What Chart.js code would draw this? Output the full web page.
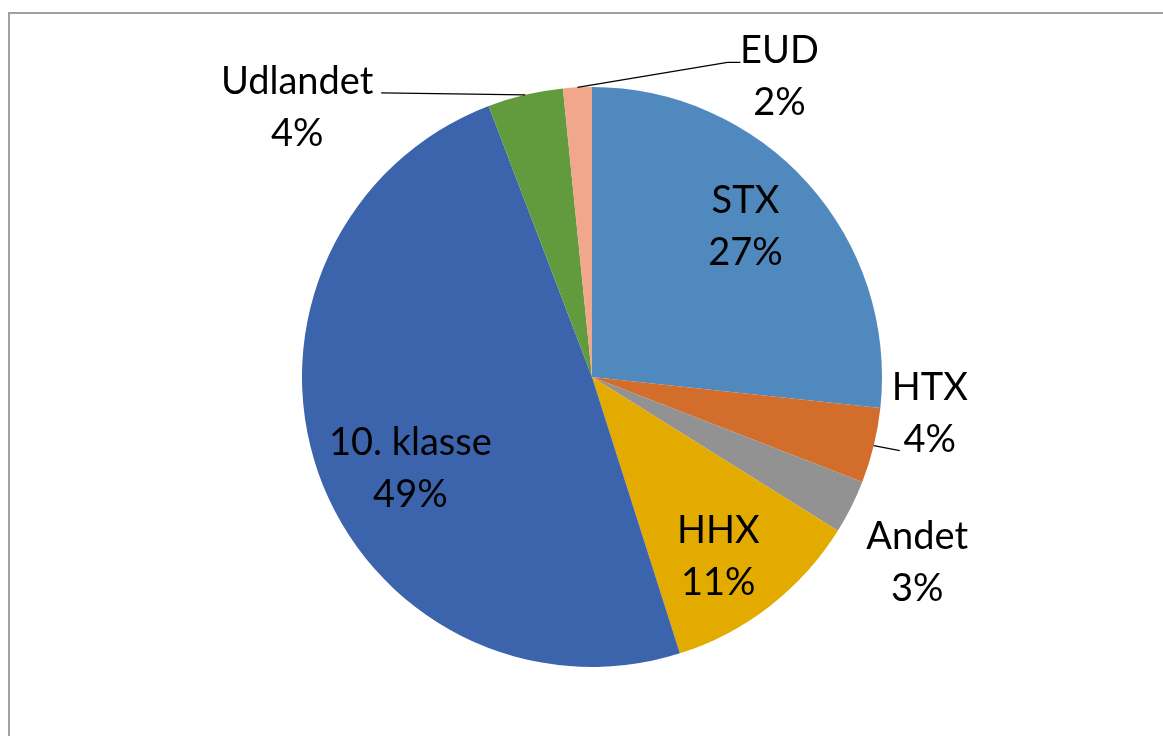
<!DOCTYPE html>
<html>
<head>
<meta charset="utf-8">
<script src="https://cdn.jsdelivr.net/npm/chart.js@4"></script>
<style>
  html, body { margin: 0; padding: 0; background: #fff; }
  #wrap { position: relative; width: 1163px; height: 736px; overflow: hidden; }
  #frame {
    position: absolute; left: 8px; top: 12px; width: 1200px; height: 800px;
    border-left: 2px solid #a0a0a0; border-top: 2px solid #a0a0a0;
  }
  canvas { position: absolute; left: 0; top: 0; }
</style>
</head>
<body>
<div id="wrap">
  <div id="frame"></div>
  <canvas id="pie" width="1163" height="736"></canvas>
</div>
<script>
// ---------- DATA ----------
const categories = ["STX", "HTX", "Andet", "HHX", "10. klasse", "Udlandet", "EUD"];
const shares = [26.7, 4.2, 3.0, 11.2, 49.1, 4.2, 1.6];
const sliceColors = ["#4F89BD", "#D36D2B", "#929292", "#E3AB00", "#3C64AC", "#629B3E", "#F0A78B"];

// ---------- LABEL PLACEMENT ----------
// inside: fraction of radius plus a small nudge; others: offsets from the slice's outer edge midpoint
const placement = {
  "STX": { inside: 0.73, nudge: [-4, -9] },
  "HHX": { inside: 0.75, nudge: [-7, 8] },
  "10. klasse": { inside: 0.70, nudge: [10, 25] },
  "HTX": { text: [56, -58], leader: [[26, 5]] },
  "Andet": { text: [66, 30] },
  "Udlandet": { text: [-228, -13], leader: [[-144, -2]] },
  "EUD": { text: [202, -37], leader: [[150, -25], [163, -25]] }
};

const FONT = "38px Lato";
const LINE_GAP = 52;

const sliceLabels = {
  id: "sliceLabels",
  afterDatasetsDraw(chart) {
    const ctx = chart.ctx;
    const meta = chart.getDatasetMeta(0);
    const total = shares.reduce((a, b) => a + b, 0);
    ctx.save();
    ctx.font = FONT;
    ctx.fillStyle = "#000";
    ctx.textAlign = "center";
    ctx.textBaseline = "middle";
    meta.data.forEach((arc, i) => {
      const name = categories[i];
      const pct = Math.round(shares[i] / total * 100) + "%";
      const p = placement[name];
      const mid = (arc.startAngle + arc.endAngle) / 2;
      let tx, ty;
      if (p.inside) {
        const r = arc.outerRadius * p.inside;
        tx = arc.x + Math.cos(mid) * r + p.nudge[0];
        ty = arc.y + Math.sin(mid) * r - LINE_GAP / 2 + p.nudge[1];
      } else {
        const ex = arc.x + Math.cos(mid) * arc.outerRadius;
        const ey = arc.y + Math.sin(mid) * arc.outerRadius;
        if (p.leader) {
          ctx.strokeStyle = "#000";
          ctx.lineWidth = 1.3;
          ctx.beginPath();
          ctx.moveTo(ex, ey);
          p.leader.forEach(pt => ctx.lineTo(ex + pt[0], ey + pt[1]));
          ctx.stroke();
        }
        tx = ex + p.text[0];
        ty = ey + p.text[1];
      }
      ctx.fillText(name, tx, ty);
      ctx.fillText(pct, tx, ty + LINE_GAP);
    });
    ctx.restore();
  }
};

// ---------- CHART ----------
new Chart(document.getElementById("pie"), {
  type: "pie",
  data: {
    labels: categories,
    datasets: [{
      data: shares,
      backgroundColor: sliceColors,
      borderWidth: 0
    }]
  },
  options: {
    responsive: false,
    animation: false,
    layout: { padding: { left: 302, right: 281, top: 87, bottom: 69 } },
    plugins: {
      legend: { display: false },
      tooltip: { enabled: false }
    }
  },
  plugins: [sliceLabels]
});
</script>
</body>
</html>
